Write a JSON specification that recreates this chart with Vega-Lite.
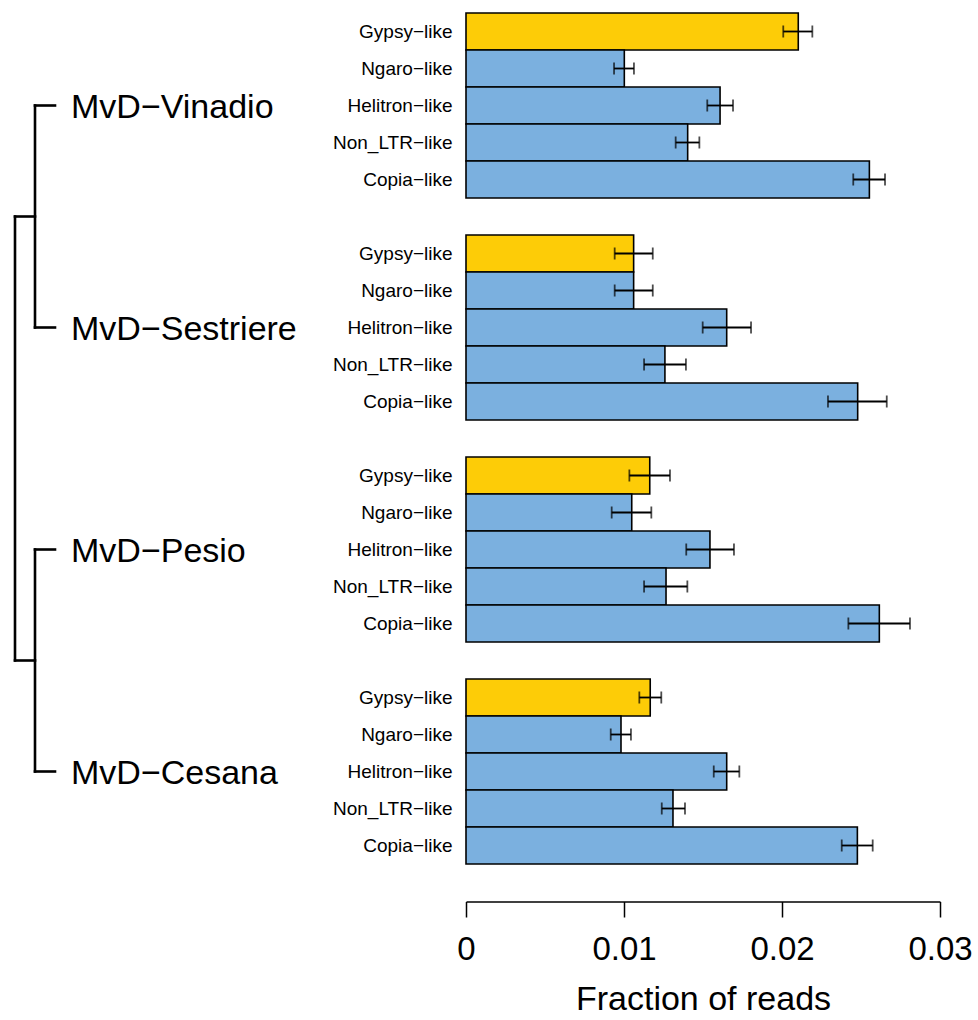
{
  "$schema": "https://vega.github.io/schema/vega-lite/v6.json",
  "background": "white",
  "padding": {"left": 0, "top": 12, "right": 0, "bottom": 0},
  "config": {
    "view": {"stroke": null},
    "font": "Liberation Sans",
    "axis": {"labelFont": "Liberation Sans", "titleFont": "Liberation Sans"}
  },
  "datasets": {
    "bars": [
      {"site": "Vinadio", "te": "Gypsy−like", "slot": "Vinadio|Gypsy−like", "value": 0.02103, "lo": 0.02008, "hi": 0.02192},
      {"site": "Vinadio", "te": "Ngaro−like", "slot": "Vinadio|Ngaro−like", "value": 0.01002, "lo": 0.00937, "hi": 0.01063},
      {"site": "Vinadio", "te": "Helitron−like", "slot": "Vinadio|Helitron−like", "value": 0.01608, "lo": 0.01527, "hi": 0.0169},
      {"site": "Vinadio", "te": "Non_LTR−like", "slot": "Vinadio|Non_LTR−like", "value": 0.01403, "lo": 0.01327, "hi": 0.01477},
      {"site": "Vinadio", "te": "Copia−like", "slot": "Vinadio|Copia−like", "value": 0.02553, "lo": 0.02451, "hi": 0.02652},
      {"site": "Sestriere", "te": "Gypsy−like", "slot": "Sestriere|Gypsy−like", "value": 0.01061, "lo": 0.00941, "hi": 0.01182},
      {"site": "Sestriere", "te": "Ngaro−like", "slot": "Sestriere|Ngaro−like", "value": 0.01061, "lo": 0.00941, "hi": 0.01182},
      {"site": "Sestriere", "te": "Helitron−like", "slot": "Sestriere|Helitron−like", "value": 0.0165, "lo": 0.01498, "hi": 0.01804},
      {"site": "Sestriere", "te": "Non_LTR−like", "slot": "Sestriere|Non_LTR−like", "value": 0.01259, "lo": 0.01127, "hi": 0.01392},
      {"site": "Sestriere", "te": "Copia−like", "slot": "Sestriere|Copia−like", "value": 0.02479, "lo": 0.02291, "hi": 0.02663},
      {"site": "Pesio", "te": "Gypsy−like", "slot": "Pesio|Gypsy−like", "value": 0.01163, "lo": 0.01034, "hi": 0.01291},
      {"site": "Pesio", "te": "Ngaro−like", "slot": "Pesio|Ngaro−like", "value": 0.01049, "lo": 0.00922, "hi": 0.01173},
      {"site": "Pesio", "te": "Helitron−like", "slot": "Pesio|Helitron−like", "value": 0.01544, "lo": 0.01394, "hi": 0.01696},
      {"site": "Pesio", "te": "Non_LTR−like", "slot": "Pesio|Non_LTR−like", "value": 0.01266, "lo": 0.01127, "hi": 0.01401},
      {"site": "Pesio", "te": "Copia−like", "slot": "Pesio|Copia−like", "value": 0.02616, "lo": 0.0242, "hi": 0.0281},
      {"site": "Cesana", "te": "Gypsy−like", "slot": "Cesana|Gypsy−like", "value": 0.01166, "lo": 0.01097, "hi": 0.01236},
      {"site": "Cesana", "te": "Ngaro−like", "slot": "Cesana|Ngaro−like", "value": 0.00981, "lo": 0.00916, "hi": 0.01044},
      {"site": "Cesana", "te": "Helitron−like", "slot": "Cesana|Helitron−like", "value": 0.0165, "lo": 0.01568, "hi": 0.0173},
      {"site": "Cesana", "te": "Non_LTR−like", "slot": "Cesana|Non_LTR−like", "value": 0.0131, "lo": 0.01239, "hi": 0.01386},
      {"site": "Cesana", "te": "Copia−like", "slot": "Cesana|Copia−like", "value": 0.02477, "lo": 0.02378, "hi": 0.02574}
    ],
    "tree": [
      {"h1": 0, "h2": 1, "p1": 2, "p2": 2},
      {"h1": 0, "h2": 1, "p1": 8, "p2": 8},
      {"h1": 0, "h2": 1, "p1": 14, "p2": 14},
      {"h1": 0, "h2": 1, "p1": 20, "p2": 20},
      {"h1": 1, "h2": 1, "p1": 2, "p2": 8},
      {"h1": 1, "h2": 1, "p1": 14, "p2": 20},
      {"h1": 1, "h2": 2, "p1": 5, "p2": 5},
      {"h1": 1, "h2": 2, "p1": 17, "p2": 17},
      {"h1": 2, "h2": 2, "p1": 5, "p2": 17}
    ],
    "leaves": [
      {"name": "MvD−Vinadio", "h": -0.8, "p": 2},
      {"name": "MvD−Sestriere", "h": -0.8, "p": 8},
      {"name": "MvD−Pesio", "h": -0.8, "p": 14},
      {"name": "MvD−Cesana", "h": -0.8, "p": 20}
    ]
  },
  "spacing": 32,
  "hconcat": [
    {
      "width": 300,
      "height": 851,
      "layer": [
        {
          "data": {"name": "tree"},
          "mark": {"type": "rule", "color": "black", "strokeWidth": 2.6, "strokeCap": "square"},
          "encoding": {
            "x": {"field": "h1", "type": "quantitative", "scale": {"domain": [-12.25, 2.75], "reverse": true, "nice": false, "zero": false}, "axis": null},
            "x2": {"field": "h2"},
            "y": {"field": "p1", "type": "quantitative", "scale": {"domain": [-0.5, 22.5], "reverse": true, "nice": false, "zero": false}, "axis": null},
            "y2": {"field": "p2"}
          }
        },
        {
          "data": {"name": "leaves"},
          "mark": {"type": "text", "align": "left", "baseline": "middle", "fontSize": 34, "font": "Liberation Sans", "color": "black", "dy": 2},
          "encoding": {
            "x": {"field": "h", "type": "quantitative"},
            "y": {"field": "p", "type": "quantitative"},
            "text": {"field": "name"}
          }
        }
      ]
    },
    {
      "width": 474,
      "height": 851,
      "data": {"name": "bars"},
      "encoding": {
        "y": {
          "field": "slot",
          "type": "nominal",
          "sort": null,
          "scale": {
            "domain": [
              "Vinadio|Gypsy−like", "Vinadio|Ngaro−like", "Vinadio|Helitron−like", "Vinadio|Non_LTR−like", "Vinadio|Copia−like", "gap1|",
              "Sestriere|Gypsy−like", "Sestriere|Ngaro−like", "Sestriere|Helitron−like", "Sestriere|Non_LTR−like", "Sestriere|Copia−like", "gap2|",
              "Pesio|Gypsy−like", "Pesio|Ngaro−like", "Pesio|Helitron−like", "Pesio|Non_LTR−like", "Pesio|Copia−like", "gap3|",
              "Cesana|Gypsy−like", "Cesana|Ngaro−like", "Cesana|Helitron−like", "Cesana|Non_LTR−like", "Cesana|Copia−like"
            ],
            "paddingInner": 0,
            "paddingOuter": 0
          },
          "axis": {
            "title": null,
            "labelExpr": "split(datum.label, '|')[1]",
            "ticks": false,
            "tickSize": 0,
            "domain": false,
            "labelFontSize": 19,
            "labelColor": "black",
            "labelPadding": 14
          }
        }
      },
      "layer": [
        {
          "mark": {"type": "bar", "stroke": "black", "strokeWidth": 1.6},
          "encoding": {
            "x": {
              "field": "value",
              "type": "quantitative",
              "scale": {"domain": [0, 0.03], "nice": false, "zero": true},
              "axis": {
                "values": [0, 0.01, 0.02, 0.03],
                "format": ".2~f",
                "grid": false,
                "offset": 37.5,
                "tickSize": 15.5,
                "tickColor": "black",
                "tickWidth": 1.5,
                "domainColor": "black",
                "domainWidth": 1.5,
                "labelFontSize": 33,
                "labelColor": "black",
                "labelPadding": 16,
                "labelFlush": false,
                "labelOverlap": false,
                "title": "Fraction of reads",
                "titleFontSize": 34,
                "titleFontWeight": "normal",
                "titleColor": "black",
                "titlePadding": 16
              }
            },
            "fill": {
              "field": "te",
              "type": "nominal",
              "scale": {
                "domain": ["Gypsy−like", "Ngaro−like", "Helitron−like", "Non_LTR−like", "Copia−like"],
                "range": ["#FDCC07", "#7BB0DF", "#7BB0DF", "#7BB0DF", "#7BB0DF"]
              },
              "legend": null
            }
          }
        },
        {
          "mark": {"type": "rule", "color": "black", "strokeWidth": 1.8},
          "encoding": {
            "x": {"field": "lo", "type": "quantitative"},
            "x2": {"field": "hi"}
          }
        },
        {
          "mark": {"type": "tick", "color": "black", "thickness": 1.8, "size": 12, "orient": "vertical"},
          "encoding": {
            "x": {"field": "lo", "type": "quantitative"}
          }
        },
        {
          "mark": {"type": "tick", "color": "black", "thickness": 1.8, "size": 12, "orient": "vertical"},
          "encoding": {
            "x": {"field": "hi", "type": "quantitative"}
          }
        }
      ]
    }
  ]
}
